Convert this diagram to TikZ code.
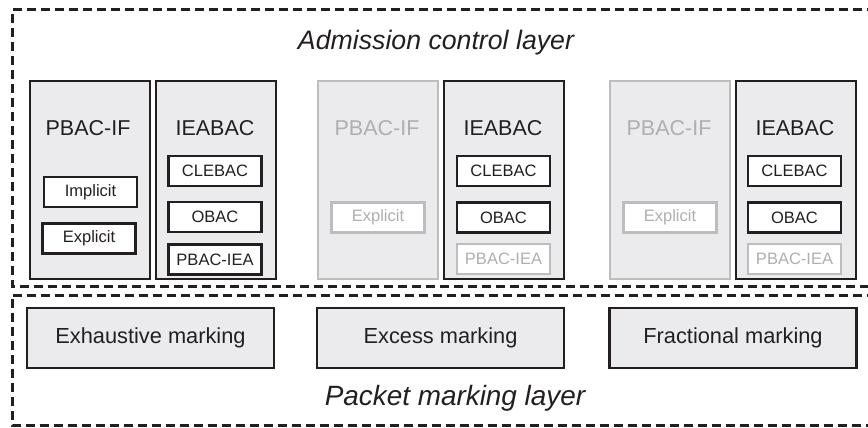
\documentclass[tikz,border=0pt]{standalone}
\usepackage{fontspec}
\setmainfont{Liberation Sans}
\definecolor{ink}{HTML}{231F20}
\definecolor{boxfill}{HTML}{EBEBED}
\definecolor{faded}{HTML}{BDBDBD}
\definecolor{fadedtxt}{HTML}{AFAFAF}
\begin{document}
\begin{tikzpicture}[x=1pt,y=-1pt,
  frame/.style={draw=ink,line width=3pt,dash pattern=on 9pt off 5pt},
  bigbox/.style={draw=ink,fill=boxfill,line width=2.2pt,minimum width=120pt,minimum height=198pt,inner sep=0pt},
  fadedbig/.style={bigbox,draw=faded},
  smallbox/.style={draw=ink,fill=white,line width=2.2pt,minimum width=93pt,minimum height=30pt,inner sep=0pt,text=ink,font=\fontsize{16.5}{18}\selectfont},
  fadedsmall/.style={smallbox,draw=faded,text=fadedtxt},
  title/.style={inner sep=0pt,text=ink,font=\fontsize{21.5}{24}\selectfont},
  fadedtitle/.style={title,text=fadedtxt},
  markbox/.style={draw=ink,fill=boxfill,line width=2.2pt,minimum width=247pt,minimum height=60pt,inner sep=0pt,text=ink,font=\fontsize{21.8}{24}\selectfont},
  layer/.style={inner sep=0pt,text=ink,font=\itshape}
]
\useasboundingbox (0,0) rectangle (868,428);
% layer frames
\draw[frame] (890,10) -- (12,10) -- (12,286) -- (890,286);
\draw[frame] (890,295) -- (12,295) -- (12,425) -- (890,425);
\node[layer,font=\fontsize{26.7}{30}\itshape\selectfont] (acl) at (436,43) {Admission control layer};
\node[layer,font=\fontsize{27.9}{30}\itshape\selectfont] (pml) at (455,398) {Packet marking layer};

% group 1
\node[bigbox] (pif1) at (90,180) {};
\node[bigbox] (iea1) at (216,180) {};
\node[title] (pif1t) at (88,128) {PBAC-IF};
\node[title] (iea1t) at (215,128) {IEABAC};
\node[smallbox] (imp1) at (90.5,192) {Implicit};
\node[smallbox] (exp1) at (89,238.5) {Explicit};
\node[smallbox] (cle1) at (215,171) {CLEBAC};
\node[smallbox] (obc1) at (215,217) {OBAC};
\node[smallbox] (pie1) at (215,259.5) {PBAC-IEA};

% group 2
\node[fadedbig] (pif2) at (378,180) {};
\node[bigbox] (iea2) at (504,180) {};
\node[fadedtitle] (pif2t) at (377,128) {PBAC-IF};
\node[title] (iea2t) at (503,128) {IEABAC};
\node[fadedsmall] (exp2) at (378,217.5) {Explicit};
\node[smallbox] (cle2) at (503.5,171) {CLEBAC};
\node[smallbox] (obc2) at (503.5,217.5) {OBAC};
\node[fadedsmall] (pie2) at (503.5,259) {PBAC-IEA};

% group 3
\node[fadedbig] (pif3) at (670,180) {};
\node[bigbox] (iea3) at (796,180) {};
\node[fadedtitle] (pif3t) at (669,128) {PBAC-IF};
\node[title] (iea3t) at (795,128) {IEABAC};
\node[fadedsmall] (exp3) at (670,217.5) {Explicit};
\node[smallbox] (cle3) at (794.5,171) {CLEBAC};
\node[smallbox] (obc3) at (794.5,217.5) {OBAC};
\node[fadedsmall] (pie3) at (794.5,259) {PBAC-IEA};

% packet marking
\node[markbox] (exh) at (150.5,338) {Exhaustive marking};
\node[markbox] (exc) at (440.5,338) {Excess marking};
\node[markbox] (frc) at (733,338) {Fractional marking};
\end{tikzpicture}
\end{document}
